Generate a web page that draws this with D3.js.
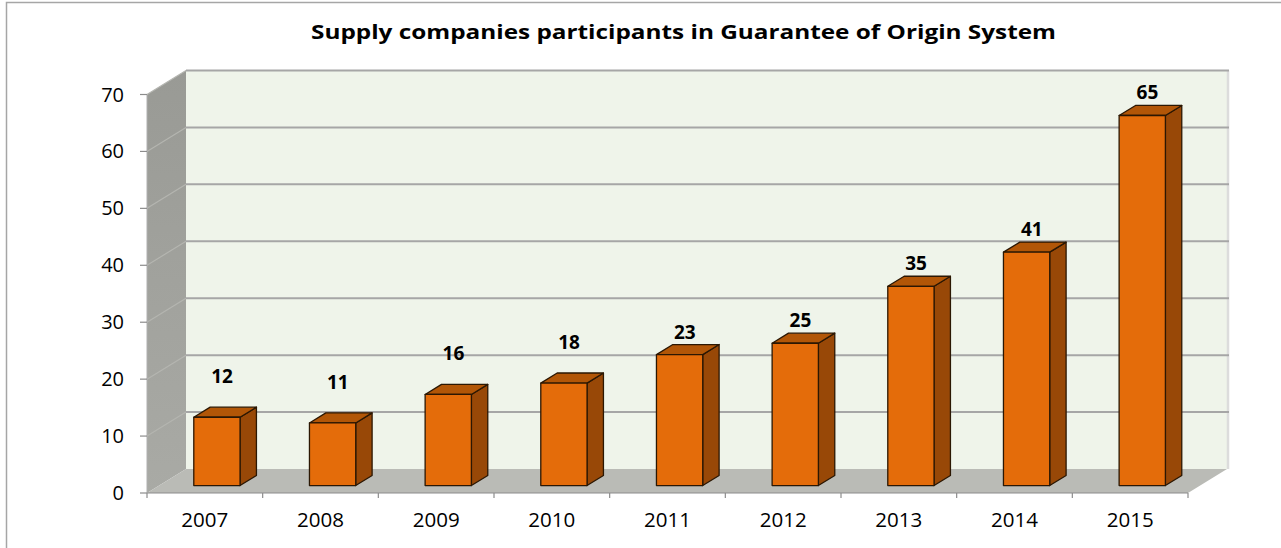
<!DOCTYPE html>
<html>
<head>
<meta charset="utf-8">
<script src="https://cdn.jsdelivr.net/npm/d3@7"></script>
<style>
  html, body { margin: 0; padding: 0; background: #fff; }
  svg { display: block; font-family: "Open Sans", "Liberation Sans", sans-serif; }
</style>
</head>
<body>
<svg id="chart" width="1281" height="548"></svg>
<script>
// Chart data
const years = ['2007', '2008', '2009', '2010', '2011', '2012', '2013', '2014', '2015'];
const companies = [12, 11, 16, 18, 23, 25, 35, 41, 65];
const yTicks = [0, 10, 20, 30, 40, 50, 60, 70];
const title = 'Supply companies participants in Guarantee of Origin System';

const svg = d3.select('#chart');

// 3D projection: depth shifts points right and up
const DX = 39, DY = 24;
const frontLeft = 147, frontRight = 1188;
const zFront = 0.31, zBack = 0.73;

const x = d3.scaleBand().domain(years).range([frontLeft, frontRight]);
const y = d3.scaleLinear().domain([0, 70]).range([493, 94.5]);

function p(px, py, z) { return [px + DX * z, py - DY * z]; }
function poly(pts) { return pts.map(d => d.join(',')).join(' '); }

// outer border
svg.append('rect')
  .attr('x', 6.5).attr('y', 2.5)
  .attr('width', 1300).attr('height', 600)
  .attr('fill', 'none').attr('stroke', '#a6a6a6').attr('stroke-width', 1.5);

// title
svg.append('text')
  .attr('x', 683.5).attr('y', 39)
  .attr('text-anchor', 'middle')
  .attr('font-weight', 'bold').attr('font-size', 19)
  .attr('textLength', 745).attr('lengthAdjust', 'spacingAndGlyphs')
  .attr('fill', '#000')
  .text(title);

const defs = svg.append('defs');
const grad = defs.append('linearGradient').attr('id', 'sideWall')
  .attr('x1', 0).attr('y1', 0).attr('x2', 0).attr('y2', 1);
grad.append('stop').attr('offset', 0).attr('stop-color', '#999a95');
grad.append('stop').attr('offset', 1).attr('stop-color', '#a9aaa5');

const yMin = y(0), yMax = y(70);

// back wall
const bwTL = p(frontLeft, yMax, 1), bwBR = p(frontRight, yMin, 1);
svg.append('rect')
  .attr('x', bwTL[0]).attr('y', bwTL[1])
  .attr('width', bwBR[0] - bwTL[0]).attr('height', bwBR[1] - bwTL[1])
  .attr('fill', '#eff4ea');
svg.append('line')
  .attr('x1', bwBR[0] + 1).attr('x2', bwBR[0] + 1)
  .attr('y1', bwTL[1]).attr('y2', bwBR[1])
  .attr('stroke', '#dcdcdc').attr('stroke-width', 2.5);

// side wall
svg.append('polygon')
  .attr('points', poly([[frontLeft, yMax], p(frontLeft, yMax, 1), p(frontLeft, yMin, 1), [frontLeft, yMin]]))
  .attr('fill', 'url(#sideWall)');

// floor
svg.append('polygon')
  .attr('points', poly([[frontLeft, yMin], p(frontLeft, yMin, 1), p(frontRight, yMin, 1), [frontRight, yMin]]))
  .attr('fill', '#babbb6');

// gridlines: diagonal on the side wall, horizontal on the back wall
const grid = svg.append('g');
yTicks.filter(v => v > 0).forEach(v => {
  const a = [frontLeft, y(v)], b = p(frontLeft, y(v), 1), c = p(frontRight, y(v), 1);
  grid.append('line')
    .attr('x1', a[0]).attr('y1', a[1]).attr('x2', b[0]).attr('y2', b[1])
    .attr('stroke', '#b4b5b0').attr('stroke-width', 1.2);
  grid.append('line')
    .attr('x1', b[0]).attr('y1', b[1]).attr('x2', c[0] + 2).attr('y2', c[1])
    .attr('stroke', '#a6a6a6').attr('stroke-width', 2);
});

// axes
const axisY = svg.append('g');
axisY.append('line')
  .attr('x1', frontLeft).attr('x2', frontLeft).attr('y1', yMax).attr('y2', yMin)
  .attr('stroke', '#b0b0b0').attr('stroke-width', 1);
yTicks.forEach(v => {
  axisY.append('line')
    .attr('x1', frontLeft - 7).attr('x2', frontLeft)
    .attr('y1', y(v)).attr('y2', y(v))
    .attr('stroke', '#8c8c8c').attr('stroke-width', 1.2);
  axisY.append('text')
    .attr('x', 124).attr('y', y(v) + 7)
    .attr('text-anchor', 'end').attr('font-size', 20)
    .attr('fill', '#000')
    .text(v);
});

const axisX = svg.append('g');
axisX.append('line')
  .attr('x1', frontLeft).attr('x2', frontRight).attr('y1', yMin).attr('y2', yMin)
  .attr('stroke', '#8c8c8c').attr('stroke-width', 1.2);
years.concat(['end']).forEach((yr, i) => {
  const tx = frontLeft + i * x.bandwidth();
  axisX.append('line')
    .attr('x1', tx).attr('x2', tx).attr('y1', yMin).attr('y2', yMin + 5)
    .attr('stroke', '#8c8c8c').attr('stroke-width', 1.2);
});
years.forEach(yr => {
  axisX.append('text')
    .attr('x', x(yr) + x.bandwidth() / 2).attr('y', 527)
    .attr('text-anchor', 'middle').attr('font-size', 20)
    .attr('textLength', 47).attr('lengthAdjust', 'spacingAndGlyphs')
    .attr('fill', '#000')
    .text(yr);
});

// bars
const barW = x.bandwidth() * 0.4;
const bars = svg.append('g');
years.forEach((yr, i) => {
  const v = companies[i];
  const cx = x(yr) + x.bandwidth() / 2;
  const l = cx - barW / 2, r = cx + barW / 2;
  const ftl = p(l, y(v), zFront), ftr = p(r, y(v), zFront);
  const fbl = p(l, y(0), zFront), fbr = p(r, y(0), zFront);
  const btl = p(l, y(v), zBack), btr = p(r, y(v), zBack);
  const bbr = p(r, y(0), zBack);
  const g = bars.append('g')
    .attr('stroke', '#2b1703').attr('stroke-width', 1.3).attr('stroke-linejoin', 'round');
  g.append('polygon').attr('points', poly([ftr, btr, bbr, fbr])).attr('fill', '#984807');
  g.append('polygon').attr('points', poly([ftl, ftr, btr, btl])).attr('fill', '#b25607');
  g.append('polygon').attr('points', poly([ftl, ftr, fbr, fbl])).attr('fill', '#e46c0a');

  const off = v < 20 ? 24 : 6;
  bars.append('text')
    .attr('x', (ftl[0] + btr[0]) / 2 - 3).attr('y', btl[1] - off)
    .attr('text-anchor', 'middle').attr('font-weight', 'bold').attr('font-size', 19)
    .attr('fill', '#000')
    .text(v);
});
</script>
</body>
</html>
